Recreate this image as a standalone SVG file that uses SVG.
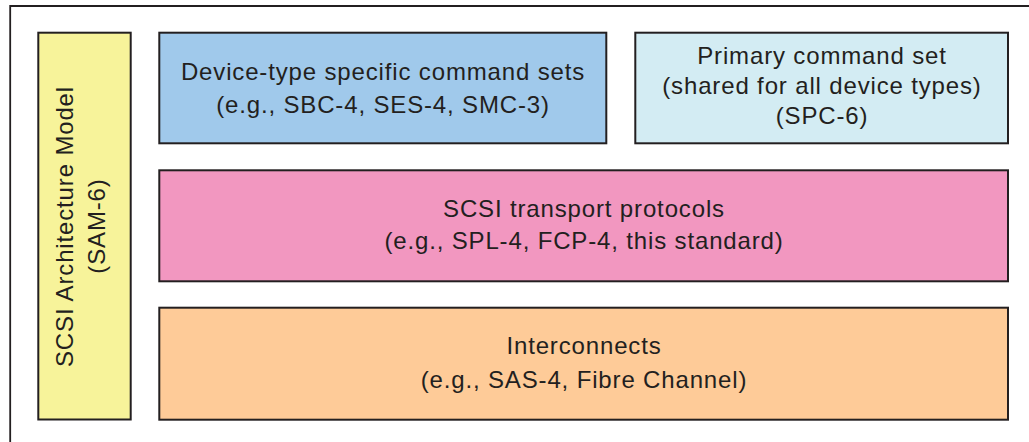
<svg xmlns="http://www.w3.org/2000/svg" width="1029" height="442" viewBox="0 0 1029 442">
<style>
.box{stroke:#231F20;stroke-width:2}
.t{font-family:"Liberation Sans",Arial,sans-serif;font-size:24px;fill:#231F20;text-anchor:middle;letter-spacing:0.85px}
</style>
<rect x="0" y="0" width="1029" height="442" fill="#ffffff"/>
<path d="M10.2,442 V6 H1029" fill="none" stroke="#231F20" stroke-width="1.8"/>
<g id="sam">
<rect class="box" x="38.3" y="32.7" width="92.4" height="386.8" fill="#F7F39A"/>
<text class="t" transform="translate(73.3,226.5) rotate(-90)" x="0" y="0">SCSI Architecture Model</text>
<text class="t" transform="translate(105,226) rotate(-90)" x="0" y="0">(SAM-6)</text>
</g>
<g id="device">
<rect class="box" x="159.3" y="32.7" width="447" height="110.6" fill="#A0C9EB"/>
<text class="t" x="383" y="79.5">Device-type specific command sets</text>
<text class="t" x="383" y="113.3">(e.g., SBC-4, SES-4, SMC-3)</text>
</g>
<g id="primary">
<rect class="box" x="635.3" y="32.7" width="372.7" height="110.6" fill="#D3ECF3"/>
<text class="t" x="822" y="63.5">Primary command set</text>
<text class="t" x="822" y="94.3">(shared for all device types)</text>
<text class="t" x="822" y="123.5">(SPC-6)</text>
</g>
<g id="transport">
<rect class="box" x="159.3" y="170.3" width="848.7" height="111" fill="#F297C0"/>
<text class="t" x="584" y="217.3">SCSI transport protocols</text>
<text class="t" x="584" y="248.5">(e.g., SPL-4, FCP-4, this standard)</text>
</g>
<g id="interconnects">
<rect class="box" x="159.3" y="307.7" width="848.7" height="112" fill="#FECB98"/>
<text class="t" x="584" y="353.5">Interconnects</text>
<text class="t" x="584" y="388.3">(e.g., SAS-4, Fibre Channel)</text>
</g>
<g id="connectors"></g>
</svg>
